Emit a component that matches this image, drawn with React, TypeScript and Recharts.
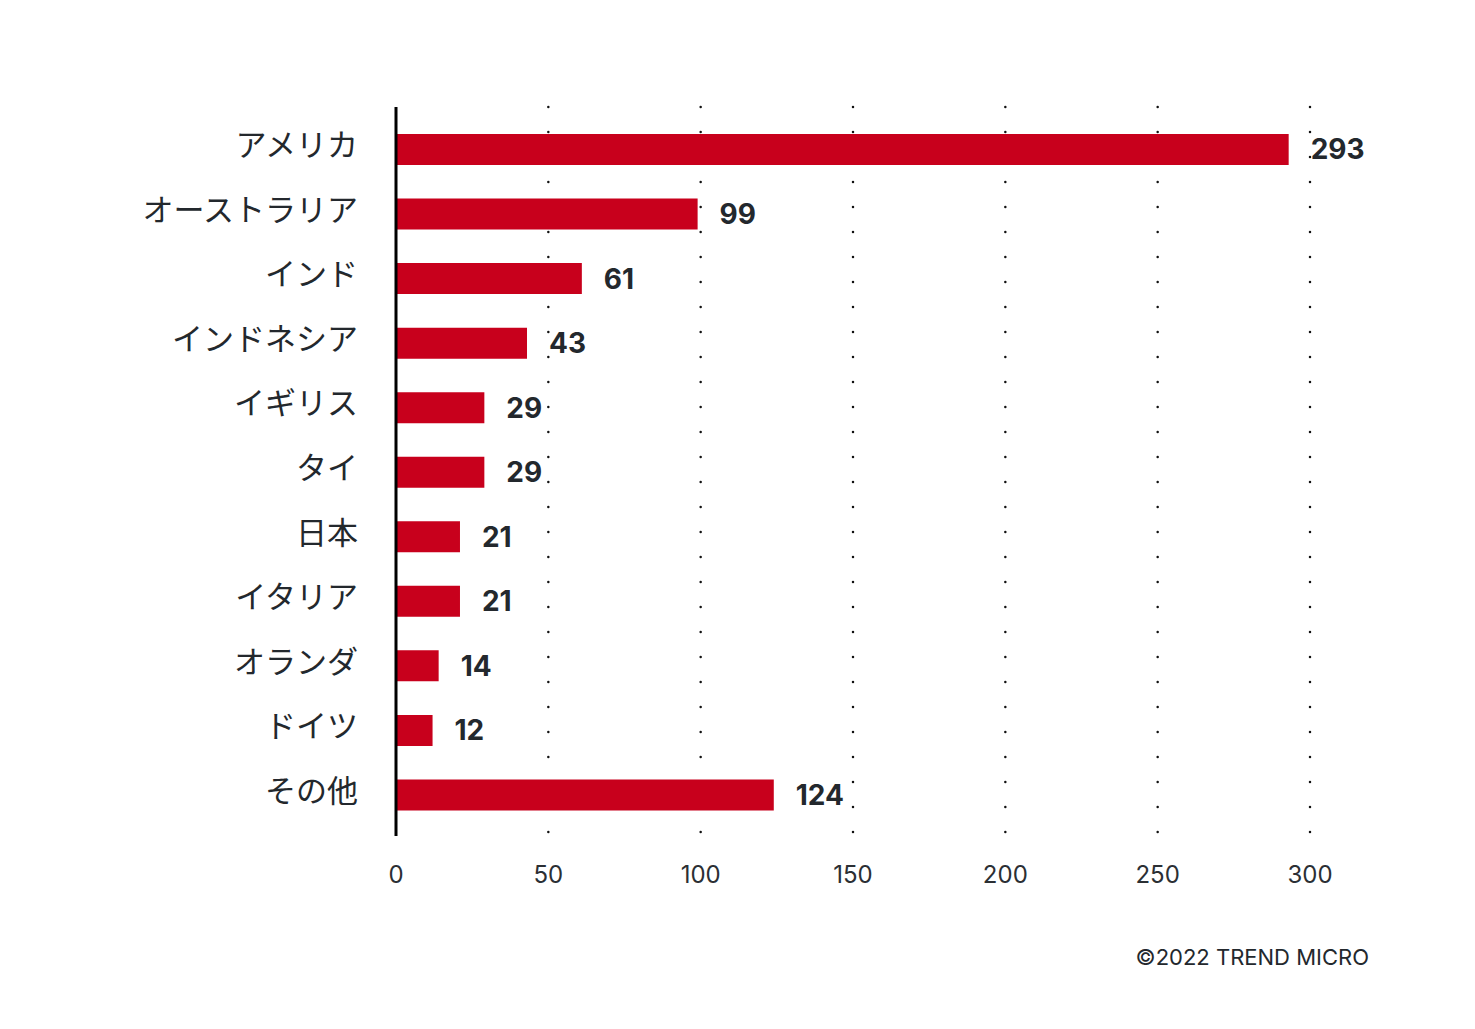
import React from "react";
import { BarChart, Bar, XAxis, YAxis, CartesianGrid, LabelList } from "recharts";

const countries = [
  "アメリカ",
  "オーストラリア",
  "インド",
  "インドネシア",
  "イギリス",
  "タイ",
  "日本",
  "イタリア",
  "オランダ",
  "ドイツ",
  "その他",
];
const counts = [293, 99, 61, 43, 29, 29, 21, 21, 14, 12, 124];
const xTicks = [0, 50, 100, 150, 200, 250, 300];

const data = countries.map((name, i) => ({ name, value: counts[i] }));

const FONT = "Inter, 'Noto Sans CJK JP', sans-serif";

export default function App() {
  return (
    <div style={{ position: "absolute", left: 0, top: 0, width: 1475, height: 1029, background: "#fff" }}>
      <BarChart
        width={1475}
        height={1029}
        data={data}
        layout="vertical"
        margin={{ top: 107, right: 165, left: 0, bottom: 0 }}
      >
        <CartesianGrid
          horizontal={false}
          stroke="#111"
          strokeWidth={2.5}
          strokeDasharray="0 25"
          strokeLinecap="round"
          verticalValues={[50, 100, 150, 200, 250, 300]}
        />
        <XAxis
          type="number"
          domain={[0, 300]}
          ticks={xTicks}
          axisLine={false}
          tickLine={false}
          tickMargin={24}
          height={193}
          tick={{ fill: "#2b2f34", fontSize: 24, fontFamily: FONT }}
          interval={0}
        />
        <YAxis
          type="category"
          dataKey="name"
          width={396}
          axisLine={{ stroke: "#000", strokeWidth: 3 }}
          tickLine={false}
          tickMargin={32}
          padding={{ top: 10, bottom: 9 }}
          tick={{ fill: "#23282d", fontSize: 31, fontFamily: FONT, dy: -4 }}
          interval={0}
        />
        <Bar dataKey="value" fill="#c8001c" barSize={31} isAnimationActive={false}>
          <LabelList
            dataKey="value"
            position="right"
            offset={22}
            style={{ fill: "#23282d", fontSize: 28, fontWeight: 700, fontFamily: FONT }}
          />
        </Bar>
      </BarChart>
      <div
        style={{
          position: "absolute",
          right: 106,
          top: 944,
          fontFamily: FONT,
          fontSize: 22,
          color: "#23282d",
        }}
      >
        ©2022 TREND MICRO
      </div>
    </div>
  );
}
